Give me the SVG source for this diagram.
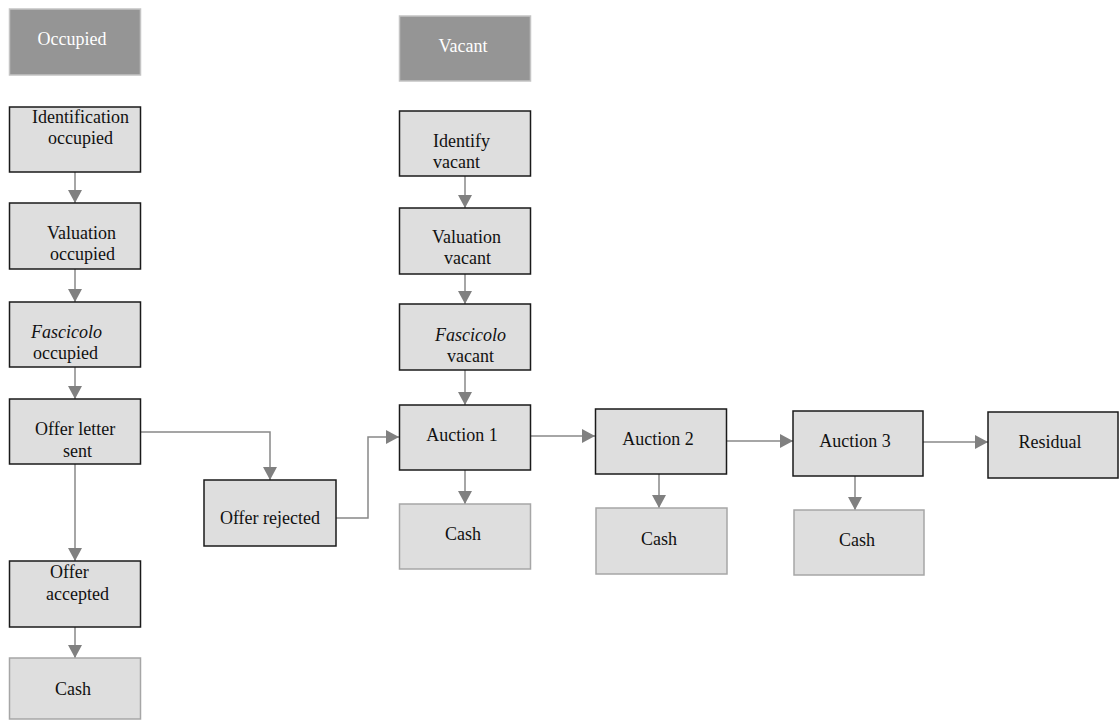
<svg xmlns="http://www.w3.org/2000/svg" width="1119" height="720" viewBox="0 0 1119 720">
<defs>
<style>
.hdr{fill:#959595;stroke:#c4c4c4;stroke-width:1.5}
.box{fill:#dedede;stroke:#1a1a1a;stroke-width:1.5}
.cash{fill:#dedede;stroke:#a6a6a6;stroke-width:1.5}
text{font-family:'Liberation Serif','Times New Roman','DejaVu Serif',serif;font-size:18px;fill:#111}
.ht{fill:#fff}
.c{text-anchor:middle}
.i{font-style:italic}
.con{fill:none;stroke:#888;stroke-width:1.5}
</style>
<marker id="ah" markerUnits="userSpaceOnUse" markerWidth="14" markerHeight="14" viewBox="0 0 14 14" refX="13" refY="7" orient="auto">
<path d="M0,0 L13,7 L0,14 Z" fill="#808080"/>
</marker>
</defs>
<g id="connectors">
<path class="con" marker-end="url(#ah)" d="M75,172 V203"/>
<path class="con" marker-end="url(#ah)" d="M75,269 V302"/>
<path class="con" marker-end="url(#ah)" d="M75,367 V399"/>
<path class="con" marker-end="url(#ah)" d="M75,464 V561"/>
<path class="con" marker-end="url(#ah)" d="M75,627 V658"/>
<path class="con" marker-end="url(#ah)" d="M141,432 H270 V480"/>
<path class="con" marker-end="url(#ah)" d="M336,518 H368 V437 H399"/>
<path class="con" marker-end="url(#ah)" d="M465,176 V208"/>
<path class="con" marker-end="url(#ah)" d="M465,274 V304"/>
<path class="con" marker-end="url(#ah)" d="M465,370 V405"/>
<path class="con" marker-end="url(#ah)" d="M465,470 V504"/>
<path class="con" marker-end="url(#ah)" d="M530,436 H595"/>
<path class="con" marker-end="url(#ah)" d="M659,474 V508"/>
<path class="con" marker-end="url(#ah)" d="M727,441 H793"/>
<path class="con" marker-end="url(#ah)" d="M855,476 V510"/>
<path class="con" marker-end="url(#ah)" d="M923,442 H988"/>
</g>
<g id="occupied">
<rect class="hdr" x="9.5" y="9" width="131" height="66"/>
<text class="ht c" font-family="Liberation Serif, serif" x="72" y="45">Occupied</text>
</g>
<g id="identification-occupied">
<rect class="box" x="9.5" y="107" width="131" height="65"/>
<text x="32" y="123">Identification</text>
<text x="48" y="144">occupied</text>
</g>
<g id="valuation-occupied">
<rect class="box" x="9.5" y="203" width="131" height="66"/>
<text x="47" y="239">Valuation</text>
<text x="50" y="260">occupied</text>
</g>
<g id="fascicolo-occupied">
<rect class="box" x="9.5" y="302" width="131" height="65"/>
<text class="i" x="31" y="338">Fascicolo</text>
<text x="33" y="359">occupied</text>
</g>
<g id="offer-letter-sent">
<rect class="box" x="9.5" y="399" width="131" height="65"/>
<text x="35" y="435">Offer letter</text>
<text x="63" y="457">sent</text>
</g>
<g id="offer-accepted">
<rect class="box" x="9.5" y="561" width="131" height="66"/>
<text x="50" y="578">Offer</text>
<text x="46" y="600">accepted</text>
</g>
<g id="cash-occupied">
<rect class="cash" x="9.5" y="658" width="131" height="61"/>
<text class="c" x="73" y="695">Cash</text>
</g>
<g id="offer-rejected">
<rect class="box" x="204" y="480" width="132" height="66"/>
<text class="c" x="270" y="524">Offer rejected</text>
</g>
<g id="vacant">
<rect class="hdr" x="399.5" y="16" width="131" height="65"/>
<text class="ht c" x="463" y="52">Vacant</text>
</g>
<g id="identify-vacant">
<rect class="box" x="399.5" y="111" width="131" height="65"/>
<text x="433" y="147">Identify</text>
<text x="433" y="168">vacant</text>
</g>
<g id="valuation-vacant">
<rect class="box" x="399.5" y="208" width="131" height="66"/>
<text x="432" y="243">Valuation</text>
<text x="444" y="264">vacant</text>
</g>
<g id="fascicolo-vacant">
<rect class="box" x="399.5" y="304" width="131" height="66"/>
<text class="i" x="435" y="341">Fascicolo</text>
<text x="447" y="362">vacant</text>
</g>
<g id="auction-1">
<rect class="box" x="399.5" y="405" width="131" height="65"/>
<text class="c" x="462" y="441">Auction 1</text>
</g>
<g id="cash-1">
<rect class="cash" x="399.5" y="504" width="131" height="65"/>
<text class="c" x="463" y="540">Cash</text>
</g>
<g id="auction-2">
<rect class="box" x="595.5" y="409" width="131" height="65"/>
<text class="c" x="658" y="445">Auction 2</text>
</g>
<g id="cash-2">
<rect class="cash" x="596" y="508" width="131" height="66"/>
<text class="c" x="659" y="545">Cash</text>
</g>
<g id="auction-3">
<rect class="box" x="793" y="411" width="130" height="65"/>
<text class="c" x="855" y="447">Auction 3</text>
</g>
<g id="cash-3">
<rect class="cash" x="794" y="510" width="130" height="65"/>
<text class="c" x="857" y="546">Cash</text>
</g>
<g id="residual">
<rect class="box" x="988" y="412" width="130" height="66"/>
<text class="c" x="1050" y="448">Residual</text>
</g>
</svg>
